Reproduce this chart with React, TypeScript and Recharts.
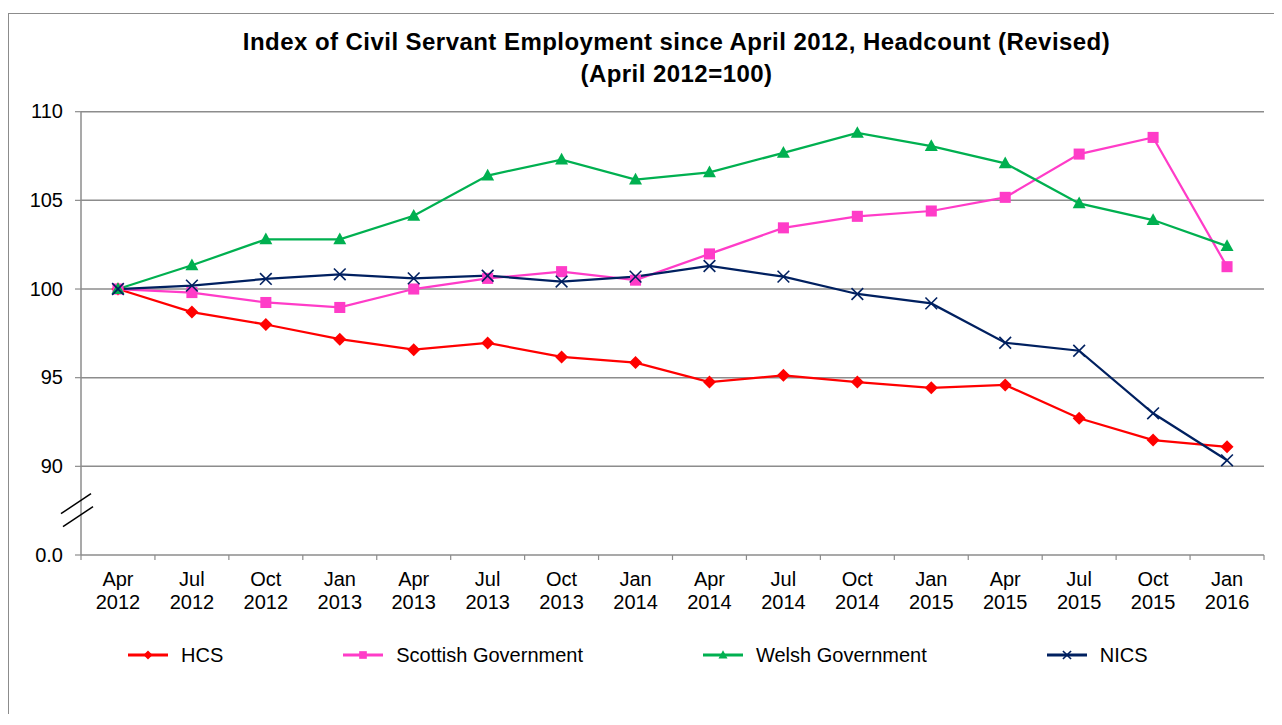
import React from 'react';
import { Line, LineChart, ReferenceLine, XAxis, YAxis } from 'recharts';

// Index values, April 2012 = 100
const categories = [
  'Apr 2012', 'Jul 2012', 'Oct 2012', 'Jan 2013', 'Apr 2013', 'Jul 2013', 'Oct 2013', 'Jan 2014',
  'Apr 2014', 'Jul 2014', 'Oct 2014', 'Jan 2015', 'Apr 2015', 'Jul 2015', 'Oct 2015', 'Jan 2016',
];
const hcs = [100, 98.7, 98.0, 97.17, 96.58, 96.96, 96.17, 95.85, 94.75, 95.13, 94.75, 94.43, 94.59, 92.71, 91.48, 91.1];
const scottish = [100, 99.8, 99.24, 98.96, 100.0, 100.6, 100.98, 100.5, 101.98, 103.45, 104.1, 104.4, 105.17, 107.61, 108.55, 101.26];
const welsh = [100, 101.34, 102.8, 102.8, 104.13, 106.4, 107.3, 106.17, 106.58, 107.68, 108.8, 108.06, 107.09, 104.83, 103.89, 102.42];
const nics = [100, 100.19, 100.57, 100.83, 100.6, 100.75, 100.42, 100.7, 101.3, 100.7, 99.72, 99.19, 96.97, 96.52, 92.99, 90.34];

// broken axis: the bottom tick stands for 0.0, 87.5 carries the break marks
const yTicks = [85, 87.5, 90, 95, 100, 105, 110];
const yTickLabels = ['0.0', '', '90', '95', '100', '105', '110'];
const gridValues = [90, 95, 100, 105, 110];

const FONT = '"Liberation Sans", Arial, sans-serif';
const AXIS_GREY = '#8c8c8c';

type Shape = 'diamond' | 'square' | 'triangle' | 'x';

const series: { key: string; name: string; color: string; shape: Shape }[] = [
  { key: 'hcs', name: 'HCS', color: '#ff0000', shape: 'diamond' },
  { key: 'scottish', name: 'Scottish Government', color: '#ff3cc8', shape: 'square' },
  { key: 'welsh', name: 'Welsh Government', color: '#00b050', shape: 'triangle' },
  { key: 'nics', name: 'NICS', color: '#002060', shape: 'x' },
];

const data = categories.map((c, i) => ({
  idx: i,
  label: c,
  hcs: hcs[i],
  scottish: scottish[i],
  welsh: welsh[i],
  nics: nics[i],
}));

// labels sit on whole indexes, the small tick marks between categories on the halves
const xTicks = categories.flatMap((_, i) => [i - 0.5, i]).concat(categories.length - 0.5);

function Marker({ shape, color, cx, cy, s }: { shape: Shape; color: string; cx: number; cy: number; s: number }) {
  if (cx == null || cy == null) return null;
  switch (shape) {
    case 'diamond':
      return <polygon points={`${cx},${cy - s} ${cx + s},${cy} ${cx},${cy + s} ${cx - s},${cy}`} fill={color} />;
    case 'square':
      return <rect x={cx - s * 0.85} y={cy - s * 0.85} width={s * 1.7} height={s * 1.7} fill={color} />;
    case 'triangle':
      return <polygon points={`${cx},${cy - s * 1.05} ${cx + s},${cy + s * 0.75} ${cx - s},${cy + s * 0.75}`} fill={color} />;
    default:
      return (
        <g stroke={color} strokeWidth={1.6}>
          <line x1={cx - s * 0.9} y1={cy - s * 0.9} x2={cx + s * 0.9} y2={cy + s * 0.9} />
          <line x1={cx - s * 0.9} y1={cy + s * 0.9} x2={cx + s * 0.9} y2={cy - s * 0.9} />
        </g>
      );
  }
}

function XTick({ x, y, payload }: any) {
  const v = payload.value;
  if (!Number.isInteger(v)) {
    return <line x1={x} y1={y} x2={x} y2={y + 5} stroke={AXIS_GREY} strokeWidth={1.2} />;
  }
  const [month, year] = categories[v].split(' ');
  return (
    <text x={x} y={y} textAnchor="middle" fontSize={20} fontFamily={FONT} fill="#000">
      <tspan x={x} dy={31}>{month}</tspan>
      <tspan x={x} dy={22.6}>{year}</tspan>
    </text>
  );
}

function YTick({ x, y, payload }: any) {
  const v = payload.value;
  if (v === 87.5) {
    return (
      <g stroke="#000" strokeWidth={1.5}>
        <line x1={x - 20} y1={y + 3} x2={x + 10} y2={y - 17} />
        <line x1={x - 18} y1={y + 16} x2={x + 12} y2={y - 4} />
      </g>
    );
  }
  return (
    <g>
      <line x1={x - 6} y1={y} x2={x} y2={y} stroke={AXIS_GREY} strokeWidth={1.2} />
      <text x={x - 18} y={y + 6.5} textAnchor="end" fontSize={20} fontFamily={FONT} fill="#000">
        {yTickLabels[yTicks.indexOf(v)]}
      </text>
    </g>
  );
}

function LegendIcon({ color, shape }: { color: string; shape: Shape }) {
  return (
    <svg width={40} height={20} style={{ display: 'block' }}>
      <line x1={0} y1={10} x2={40} y2={10} stroke={color} strokeWidth={3} />
      <Marker shape={shape} color={color} cx={20} cy={10} s={4.5} />
    </svg>
  );
}

export default function App() {
  return (
    <div
      style={{
        position: 'relative',
        marginTop: 5,
        width: 1273,
        height: 700,
        borderTop: `1px solid ${AXIS_GREY}`,
        borderLeft: `1px solid ${AXIS_GREY}`,
        fontFamily: FONT,
        background: '#fff',
      }}
    >
      <div
        style={{
          position: 'absolute',
          top: 12,
          left: 76,
          width: 1183,
          textAlign: 'center',
          fontWeight: 'bold',
          fontSize: 24,
          letterSpacing: 0.45,
          lineHeight: '32px',
        }}
      >
        Index of Civil Servant Employment since April 2012, Headcount (Revised)
        <br />
        (April 2012=100)
      </div>

      <div style={{ position: 'absolute', top: 0, left: 0 }}>
        <LineChart width={1273} height={700} data={data} margin={{ top: 97.7, right: 18, bottom: 99, left: 0 }}>
          <XAxis
            dataKey="idx"
            type="number"
            domain={[-0.5, categories.length - 0.5]}
            ticks={xTicks}
            interval={0}
            tick={<XTick />}
            tickLine={false}
            tickSize={0}
            tickMargin={0}
            height={60}
            axisLine={{ stroke: AXIS_GREY, strokeWidth: 1.5 }}
          />
          <YAxis
            type="number"
            domain={[85, 110]}
            ticks={yTicks}
            interval={0}
            tick={<YTick />}
            tickLine={false}
            tickSize={0}
            tickMargin={0}
            width={72}
            axisLine={{ stroke: AXIS_GREY, strokeWidth: 1.5 }}
          />
          {gridValues.map((v) => (
            <ReferenceLine key={v} y={v} stroke={AXIS_GREY} strokeWidth={1.5} />
          ))}
          {series.map((s) => (
            <Line
              key={s.key}
              dataKey={s.key}
              name={s.name}
              type="linear"
              stroke={s.color}
              strokeWidth={2.25}
              isAnimationActive={false}
              dot={(p: any) => <Marker key={`${s.key}-${p.index}`} shape={s.shape} color={s.color} cx={p.cx} cy={p.cy} s={6.5} />}
              activeDot={false}
            />
          ))}
        </LineChart>
      </div>

      <div
        style={{
          position: 'absolute',
          top: 629,
          left: 119,
          height: 24,
          display: 'flex',
          alignItems: 'center',
          gap: 120,
          fontSize: 20,
        }}
      >
        {series.map((s) => (
          <div key={s.key} style={{ display: 'flex', alignItems: 'center', gap: 13 }}>
            <LegendIcon color={s.color} shape={s.shape} />
            <span>{s.name}</span>
          </div>
        ))}
      </div>
    </div>
  );
}
